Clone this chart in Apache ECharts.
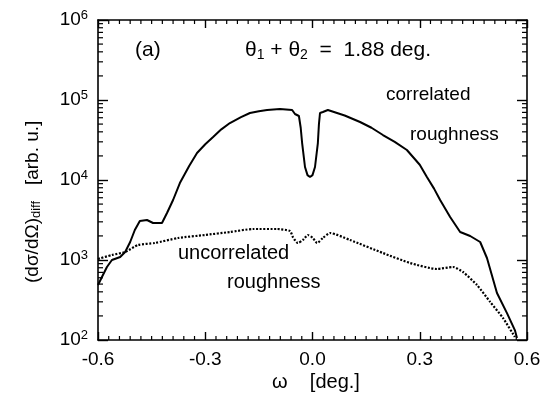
<!DOCTYPE html>
<html><head><meta charset="utf-8">
<script src="https://cdn.jsdelivr.net/npm/echarts@6/dist/echarts.min.js"></script>
<style>html,body{margin:0;padding:0;background:#fff}#c{width:553px;height:411px}</style>
</head><body><div id="c"></div>
<script>
// correlated roughness (solid)
const omegaCorr = [-0.600,-0.589,-0.575,-0.561,-0.538,-0.524,-0.510,-0.497,-0.483,-0.463,-0.446,-0.421,-0.407,-0.390,-0.371,-0.345,-0.323,-0.300,-0.278,-0.255,-0.231,-0.200,-0.175,-0.150,-0.127,-0.091,-0.057,-0.049,-0.038,-0.033,-0.029,-0.021,-0.014,-0.007,0.000,0.007,0.015,0.018,0.021,0.029,0.043,0.090,0.133,0.165,0.197,0.230,0.264,0.300,0.320,0.340,0.357,0.385,0.413,0.441,0.469,0.488,0.516,0.544,0.566,0.572];
const valueCorr = [487,613,818,1000,1090,1259,1679,2371,3073,3162,2900,2900,3868,5623,9170,15000,21750,28000,34470,43000,51560,61000,68770,72500,74990,77200,75000,66830,63100,45000,29000,14540,11500,10900,11500,14540,29000,50000,68770,70800,75000,64000,53090,45000,36500,30000,23700,15500,10900,7800,5623,3447,2239,1995,1679,1059,387,217,133,106];
// uncorrelated roughness (dotted)
const omegaUncorr = [-0.600,-0.561,-0.524,-0.488,-0.441,-0.376,-0.301,-0.231,-0.166,-0.099,-0.063,-0.055,-0.041,-0.027,-0.013,0.001,0.013,0.029,0.049,0.105,0.197,0.273,0.348,0.393,0.421,0.460,0.497,0.533,0.566];
const valueUncorr = [1030,1155,1259,1540,1631,1884,2054,2239,2441,2441,2304,1939,1631,1778,2054,1884,1631,1884,2175,1778,1223,917,772,818,708,487,299,188,109];
// axis ticks
const xTickLabels = ['-0.6','-0.3','0.0','0.3','0.6'];
const yMinorTicks = [];
[100,1000,10000,100000].forEach(d => { for (let k = 2; k <= 9; k++) yMinorTicks.push(d * k); });
const xMinorTicks = [];
for (let i = -20; i <= 20; i++) { if (i % 10 !== 0) xMinorTicks.push(i * 0.03); }

const FONT = '"Liberation Sans", Arial, sans-serif';
const chart = echarts.init(document.getElementById('c'), null, {renderer: 'canvas'});
const xCommon = {
  type: 'value', min: -0.6, max: 0.6, interval: 0.3,
  axisLine: {show: true, onZero: false, lineStyle: {color: '#000', width: 1.6}},
  axisTick: {show: true, inside: true, length: 8, lineStyle: {color: '#000', width: 1.4}},
  splitLine: {show: false}
};
const yCommon = {
  type: 'log', logBase: 10, min: 100, max: 1000000,
  axisLine: {show: true, onZero: false, lineStyle: {color: '#000', width: 1.6}},
  axisTick: {show: true, inside: true, length: 10, lineStyle: {color: '#000', width: 1.4}},
  splitLine: {show: false}
};
const option = {
  animation: false,
  backgroundColor: '#fff',
  grid: {left: 98, right: 26, top: 20, bottom: 71, containLabel: false},
  xAxis: [
    Object.assign({}, xCommon, {position: 'bottom',
      axisLabel: {show: true, margin: 10, color: '#000', fontSize: 19, fontFamily: FONT,
        formatter: (v, i) => xTickLabels[i] !== undefined ? xTickLabels[i] : v.toFixed(1)}}),
    Object.assign({}, xCommon, {position: 'top', axisLabel: {show: false}})
  ],
  yAxis: [
    Object.assign({}, yCommon, {position: 'left',
      axisLabel: {show: true, margin: 10, color: '#000', fontSize: 19, fontFamily: FONT,
        formatter: v => '10{sup|' + Math.round(Math.log10(v)) + '}',
        rich: {sup: {fontSize: 13, fontFamily: FONT, color: '#000', verticalAlign: 'top', padding: [0, 0, 10, 0]}}}}),
    Object.assign({}, yCommon, {position: 'right', axisLabel: {show: false}})
  ],
  series: [
    {
      type: 'line', name: 'correlated', xAxisIndex: 0, yAxisIndex: 0,
      data: omegaCorr.map((w, i) => [w, valueCorr[i]]),
      showSymbol: false, smooth: false,
      lineStyle: {color: '#000', width: 2}
    },
    {
      type: 'line', name: 'uncorrelated', xAxisIndex: 0, yAxisIndex: 0,
      data: omegaUncorr.map((w, i) => [w, valueUncorr[i]]),
      showSymbol: false, smooth: 0.2,
      lineStyle: {color: '#000', width: 2.2, type: [2, 1.6]}
    },
    {
      type: 'custom', xAxisIndex: 0, yAxisIndex: 0, silent: true,
      data: yMinorTicks.map(v => [v]),
      renderItem: (params, api) => {
        const v = api.value(0);
        const pl = api.coord([-0.6, v]);
        const pr = api.coord([0.6, v]);
        return {type: 'group', children: [
          {type: 'line', shape: {x1: pl[0], y1: pl[1], x2: pl[0] + 5, y2: pl[1]}, style: {stroke: '#000', lineWidth: 1.2}},
          {type: 'line', shape: {x1: pr[0], y1: pr[1], x2: pr[0] - 5, y2: pr[1]}, style: {stroke: '#000', lineWidth: 1.2}}
        ]};
      }
    },
    {
      type: 'custom', xAxisIndex: 0, yAxisIndex: 0, silent: true,
      data: xMinorTicks.map(v => [v]),
      renderItem: (params, api) => {
        const w = api.value(0);
        const pb = api.coord([w, 100]);
        const pt = api.coord([w, 1000000]);
        return {type: 'group', children: [
          {type: 'line', shape: {x1: pb[0], y1: pb[1], x2: pb[0], y2: pb[1] - 4}, style: {stroke: '#000', lineWidth: 1.2}},
          {type: 'line', shape: {x1: pt[0], y1: pt[1], x2: pt[0], y2: pt[1] + 4}, style: {stroke: '#000', lineWidth: 1.2}}
        ]};
      }
    }
  ],
  graphic: [
    {type: 'text', left: 135, top: 40, style: {text: '(a)', font: '21px ' + FONT, fill: '#000'}},
    {type: 'text', left: 245, top: 40, style: {text: 'θ{sub|1} + θ{sub|2}  =  1.88 deg.', font: '21px ' + FONT, fill: '#000',
      rich: {sub: {fontSize: 14, fontFamily: FONT, fill: '#000', verticalAlign: 'bottom', padding: [9, 0, 0, 0]}}}},
    {type: 'text', left: 386, top: 85, style: {text: 'correlated', font: '19px ' + FONT, fill: '#000'}},
    {type: 'text', left: 410, top: 125, style: {text: 'roughness', font: '19px ' + FONT, fill: '#000'}},
    {type: 'text', left: 178, top: 243, style: {text: 'uncorrelated', font: '20px ' + FONT, fill: '#000'}},
    {type: 'text', left: 227, top: 272, style: {text: 'roughness', font: '20px ' + FONT, fill: '#000'}},
    {type: 'text', left: 272, top: 372, style: {text: 'ω    [deg.]', font: '20px ' + FONT, fill: '#000'}},
    {type: 'text', x: 22, y: 283, rotation: Math.PI / 2,
      style: {text: '(dσ/dΩ){sub|diff}   [arb. u.]', font: '19px ' + FONT, fill: '#000',
        rich: {sub: {fontSize: 13, fontFamily: FONT, fill: '#000', verticalAlign: 'bottom', padding: [8, 0, 0, 0]}}}}
  ]
};
chart.setOption(option);
</script></body></html>
